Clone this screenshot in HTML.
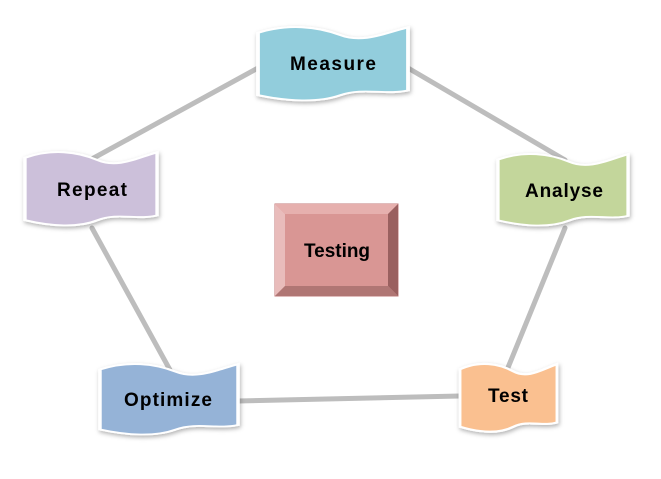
<!DOCTYPE html>
<html><head><meta charset="utf-8"><style>
body{margin:0;background:#fff;width:661px;height:474px;overflow:hidden}
svg text{font-family:"Liberation Sans",sans-serif;font-weight:bold;font-size:19px;fill:#000}
</style></head><body>
<svg width="661" height="474" viewBox="0 0 661 474">
<defs>
<filter id="sh" x="-10%" y="-10%" width="130%" height="140%"><feDropShadow dx="1" dy="2" stdDeviation="2" flood-color="#000" flood-opacity="0.3"/></filter>
<path id="w" d="M0,0.1 C0.2,-0.02 0.4,0.02 0.55,0.13 C0.7,0.24 0.85,0.1 1,0.03 L1,0.84 C0.85,0.9 0.7,0.8 0.55,0.9 C0.4,1 0.2,0.98 0,0.9 Z"/>
</defs>
<g stroke="#bdbdbd" stroke-width="5" stroke-linecap="round">
<line x1="258" y1="68" x2="90" y2="160"/>
<line x1="408" y1="68" x2="565" y2="160"/>
<line x1="565" y1="228" x2="507" y2="370"/>
<line x1="92" y1="228" x2="170" y2="370"/>
<line x1="238" y1="401" x2="460" y2="396"/>
</g>
<g filter="url(#sh)" stroke="#fff">
<use href="#w" transform="translate(258,25) scale(150,78)" fill="#92cddc" style="stroke-width:0.025"/>
<use href="#w" transform="translate(498,152) scale(130,76)" fill="#c3d69b" style="stroke-width:0.025"/>
<use href="#w" transform="translate(25,150) scale(132,78)" fill="#ccc0da" style="stroke-width:0.025"/>
<use href="#w" transform="translate(100,362) scale(138,75)" fill="#95b3d7" style="stroke-width:0.025"/>
<use href="#w" transform="translate(460,362) scale(97,72)" fill="#fac090" style="stroke-width:0.03"/>
</g>
<g>
<rect x="275" y="204" width="123" height="92" fill="#d99694" stroke="#c07a78"/>
<polygon points="275,204 398,204 388,214 285,214" fill="#e6b0ae"/>
<polygon points="275,204 285,214 285,286 275,296" fill="#e9bcbb"/>
<polygon points="398,204 388,214 388,286 398,296" fill="#9a605f"/>
<polygon points="275,296 285,286 388,286 398,296" fill="#b07674"/>
</g>
<text x="333" y="70" text-anchor="middle" textLength="86">Measure</text>
<text x="564" y="197" text-anchor="middle" textLength="78">Analyse</text>
<text x="92" y="196" text-anchor="middle" textLength="70">Repeat</text>
<text x="168" y="406" text-anchor="middle" textLength="88">Optimize</text>
<text x="508" y="402" text-anchor="middle" textLength="40">Test</text>
<text x="337" y="257" text-anchor="middle" textLength="66">Testing</text>
</svg>
</body></html>
